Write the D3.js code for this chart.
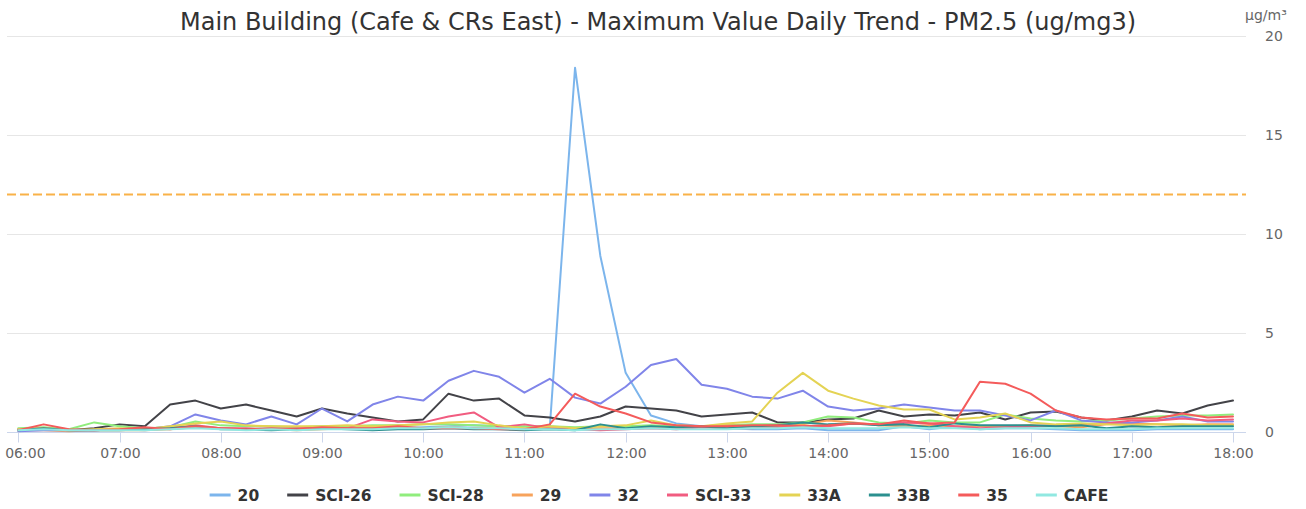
<!DOCTYPE html>
<html>
<head>
<meta charset="utf-8">
<script src="https://cdn.jsdelivr.net/npm/d3@7"></script>
<style>
  body { margin: 0; background: #fff; }
  svg { display: block; font-family: "DejaVu Sans", sans-serif; }
</style>
</head>
<body>
<div id="chart"></div>
<script>
var chartTitle = "Main Building (Cafe & CRs East) - Maximum Value Daily Trend - PM2.5 (ug/mg3)";
var unitLabel = "µg/m³";
var tickLabels = ["06:00","07:00","08:00","09:00","10:00","11:00","12:00","13:00","14:00","15:00","16:00","17:00","18:00"];
var yTicks = [0, 5, 10, 15, 20];
var limitValue = 12;

// 15 minute samples, 06:00 .. 18:00
var seriesNames = ["20","SCI-26","SCI-28","29","32","SCI-33","33A","33B","35","CAFE"];
var seriesColors = ["#7cb5ec","#434348","#90ed7d","#f7a35c","#8085e9","#f15c80","#e4d354","#2b908f","#f45b5b","#91e8e1"];

var s20 = [0.1,0.15,0.1,0.1,0.15,0.1,0.2,0.3,0.2,0.15,0.2,0.15,0.2,0.2,0.25,0.2,0.25,0.3,0.35,0.3,0.2,0.2,18.4,8.9,3.0,0.85,0.45,0.3,0.2,0.15,0.15,0.2,0.1,0.1,0.1,0.3,0.15,0.3,0.15,0.2,0.2,0.15,0.1,0.1,0.1,0.15,0.15,0.15,0.15];
var sSci26 = [0.1,0.15,0.1,0.2,0.4,0.3,1.4,1.6,1.2,1.4,1.1,0.8,1.2,0.95,0.75,0.55,0.65,1.95,1.6,1.7,0.85,0.75,0.55,0.8,1.3,1.2,1.1,0.8,0.9,1.0,0.5,0.5,0.65,0.7,1.1,0.8,0.9,0.85,1.0,0.65,1.0,1.05,0.75,0.6,0.8,1.1,0.95,1.35,1.6];
var sSci28 = [0.2,0.25,0.15,0.5,0.3,0.2,0.25,0.55,0.35,0.3,0.3,0.25,0.3,0.3,0.35,0.35,0.4,0.4,0.35,0.3,0.3,0.3,0.25,0.3,0.3,0.35,0.3,0.3,0.35,0.4,0.4,0.5,0.8,0.75,0.5,0.45,0.6,0.5,0.5,0.9,0.7,0.6,0.55,0.6,0.7,0.8,0.85,0.85,0.9];
var s29 = [0.1,0.1,0.05,0.1,0.1,0.1,0.15,0.25,0.2,0.15,0.15,0.1,0.15,0.2,0.2,0.25,0.2,0.25,0.2,0.2,0.15,0.2,0.15,0.2,0.2,0.25,0.2,0.3,0.35,0.3,0.3,0.4,0.6,0.5,0.35,0.3,0.35,0.3,0.3,0.3,0.35,0.3,0.25,0.4,0.45,0.4,0.35,0.4,0.4];
var s32 = [0.05,0.1,0.1,0.1,0.15,0.15,0.3,0.9,0.6,0.4,0.8,0.4,1.2,0.55,1.4,1.8,1.6,2.6,3.1,2.8,2.0,2.7,1.75,1.45,2.3,3.4,3.7,2.4,2.2,1.8,1.7,2.1,1.3,1.1,1.2,1.4,1.25,1.1,1.1,0.85,0.6,1.1,0.6,0.5,0.5,0.6,0.8,0.55,0.55];
var sSci33 = [0.15,0.2,0.1,0.1,0.15,0.2,0.2,0.35,0.2,0.2,0.15,0.2,0.25,0.2,0.65,0.55,0.5,0.8,1.0,0.25,0.4,0.2,0.15,0.1,0.15,0.2,0.15,0.25,0.2,0.2,0.25,0.3,0.3,0.45,0.4,0.5,0.45,0.3,0.2,0.25,0.3,0.35,0.4,0.45,0.6,0.6,0.7,0.6,0.65];
var s33a = [0.15,0.2,0.1,0.15,0.2,0.15,0.3,0.45,0.55,0.35,0.3,0.3,0.3,0.35,0.3,0.35,0.4,0.5,0.55,0.35,0.2,0.3,0.2,0.3,0.35,0.6,0.35,0.3,0.45,0.55,2.0,3.0,2.1,1.7,1.35,1.15,1.15,0.65,0.75,0.95,0.5,0.4,0.45,0.4,0.35,0.4,0.4,0.35,0.35];
var s33b = [0.1,0.2,0.1,0.1,0.1,0.15,0.2,0.3,0.15,0.15,0.1,0.15,0.2,0.15,0.1,0.15,0.15,0.2,0.15,0.15,0.1,0.15,0.1,0.4,0.2,0.3,0.25,0.3,0.2,0.3,0.35,0.5,0.4,0.45,0.35,0.4,0.25,0.45,0.35,0.35,0.35,0.3,0.35,0.2,0.3,0.25,0.3,0.3,0.3];
var s35 = [0.1,0.4,0.15,0.1,0.15,0.25,0.15,0.3,0.2,0.15,0.2,0.15,0.25,0.2,0.2,0.3,0.2,0.2,0.2,0.15,0.15,0.4,1.95,1.3,0.95,0.5,0.35,0.3,0.3,0.35,0.35,0.3,0.35,0.45,0.4,0.6,0.45,0.5,2.55,2.45,1.95,1.1,0.75,0.65,0.7,0.7,0.95,0.75,0.8];
var sCafe = [0.1,0.15,0.1,0.1,0.1,0.1,0.15,0.2,0.15,0.1,0.15,0.1,0.15,0.15,0.15,0.2,0.2,0.25,0.2,0.2,0.15,0.15,0.1,0.15,0.15,0.2,0.15,0.15,0.15,0.2,0.2,0.25,0.2,0.2,0.2,0.25,0.2,0.2,0.15,0.2,0.2,0.2,0.15,0.15,0.15,0.2,0.2,0.2,0.2];

var seriesValues = [s20, sSci26, sSci28, s29, s32, sSci33, s33a, s33b, s35, sCafe];

var width = 1306, height = 509;
var plotLeft = 7, plotRight = 1246;

var svg = d3.select("#chart").append("svg")
    .attr("width", width)
    .attr("height", height);

var x = d3.scaleLinear().domain([6, 18]).range([18.3, 1233]);
var y = d3.scaleLinear().domain([0, 20]).range([432.3, 36]);

svg.append("text")
    .attr("x", 658)
    .attr("y", 30)
    .attr("text-anchor", "middle")
    .style("font-size", "24px")
    .style("fill", "#333333")
    .text(chartTitle);

// grid
svg.append("g").selectAll("line")
  .data(yTicks.slice(1))
  .enter().append("line")
    .attr("x1", plotLeft).attr("x2", plotRight)
    .attr("y1", function(d) { return Math.round(y(d)) + 0.5; })
    .attr("y2", function(d) { return Math.round(y(d)) + 0.5; })
    .attr("stroke", "#e6e6e6");

// right y axis labels
svg.append("g").selectAll("text")
  .data(yTicks)
  .enter().append("text")
    .attr("x", 1265)
    .attr("y", function(d) { return y(d) + 5; })
    .style("font-size", "14px")
    .style("fill", "#666666")
    .text(function(d) { return d; });

svg.append("text")
    .attr("x", 1245)
    .attr("y", 20)
    .style("font-size", "14px")
    .style("fill", "#666666")
    .text(unitLabel);

// x axis
var xAxis = svg.append("g")
    .attr("transform", "translate(0," + (Math.round(y(0)) + 0.5) + ")");
xAxis.append("line")
    .attr("x1", plotLeft).attr("x2", plotRight)
    .attr("stroke", "#ccd6eb");
var xTick = xAxis.selectAll("g.tick")
  .data(tickLabels)
  .enter().append("g")
    .attr("class", "tick")
    .attr("transform", function(d, i) { return "translate(" + (Math.round(x(6 + i)) + 0.5) + ",0)"; });
xTick.append("line").attr("y2", 10).attr("stroke", "#ccd6eb");
xTick.append("text")
    .attr("y", 25)
    .attr("text-anchor", "middle")
    .style("font-size", "14px")
    .style("fill", "#666666")
    .text(function(d) { return d; });

// keep the first label inside the chart, like the original does
xTick.select("text").each(function(d, i) {
  var w = this.getComputedTextLength();
  var left = x(6 + i) - w / 2;
  if (left < 5) d3.select(this).attr("x", 5 - left);
});

// limit line
svg.append("line")
    .attr("x1", plotLeft).attr("x2", plotRight)
    .attr("y1", y(limitValue)).attr("y2", y(limitValue))
    .attr("stroke", "#f9b248")
    .attr("stroke-width", 2)
    .attr("stroke-dasharray", "9,4");

var line = d3.line()
    .x(function(d, i) { return x(6 + i * 0.25); })
    .y(function(d) { return y(d); });

svg.append("g").selectAll("path")
  .data(seriesValues)
  .enter().append("path")
    .attr("d", line)
    .attr("fill", "none")
    .attr("stroke", function(d, i) { return seriesColors[i]; })
    .attr("stroke-width", 2)
    .attr("stroke-linejoin", "round")
    .attr("stroke-linecap", "round");

// legend
var legend = svg.append("g");
var items = legend.selectAll("g")
  .data(seriesNames)
  .enter().append("g");
items.append("line")
    .attr("x1", 0).attr("x2", 21)
    .attr("y1", 0).attr("y2", 0)
    .attr("stroke", function(d, i) { return seriesColors[i]; })
    .attr("stroke-width", 3);
items.append("text")
    .attr("x", 28)
    .attr("y", 5.5)
    .style("font-size", "15.5px")
    .style("font-weight", "bold")
    .style("fill", "#333333")
    .text(function(d) { return d; });

var pos = 0;
items.each(function() {
  var g = d3.select(this);
  var w = g.select("text").node().getComputedTextLength();
  g.attr("data-x", pos);
  pos += 28 + w + 28;
});
var total = pos - 28;
var startX = 659 - total / 2;
items.attr("transform", function() {
  return "translate(" + (startX + (+d3.select(this).attr("data-x"))) + ",495)";
});
</script>
</body>
</html>
